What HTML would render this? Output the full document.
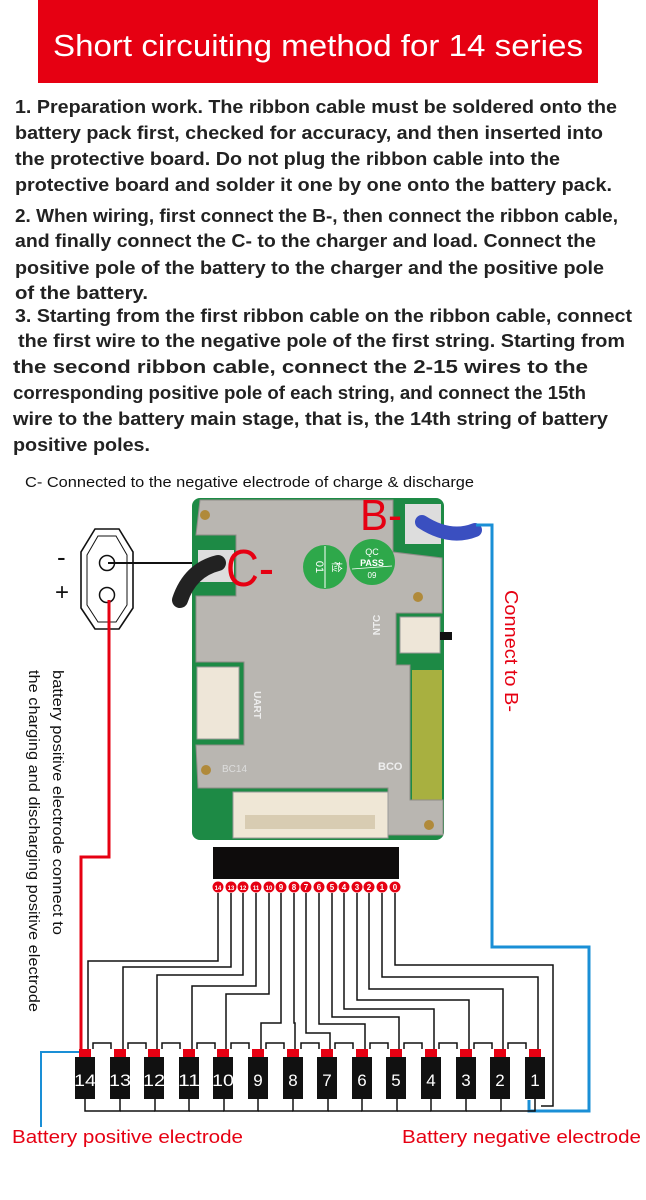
<!DOCTYPE html>
<html><head><meta charset="utf-8"><style>
html,body{margin:0;padding:0;background:#fff}
svg{display:block}
</style></head><body>
<svg width="646" height="1200" viewBox="0 0 646 1200" xmlns="http://www.w3.org/2000/svg" font-family="Liberation Sans, sans-serif">
<rect x="38" y="0" width="560" height="83" fill="#e60012"/>
<text x="318" y="56" font-size="31" fill="#fff" text-anchor="middle" textLength="530" lengthAdjust="spacingAndGlyphs">Short circuiting method for 14 series</text>
<g font-size="18" font-weight="bold" fill="#222">
<text x="15" y="113" textLength="602" lengthAdjust="spacingAndGlyphs">1. Preparation work. The ribbon cable must be soldered onto the</text>
<text x="15" y="139" textLength="588" lengthAdjust="spacingAndGlyphs">battery pack first, checked for accuracy, and then inserted into</text>
<text x="15" y="165" textLength="545" lengthAdjust="spacingAndGlyphs">the protective board. Do not plug the ribbon cable into the</text>
<text x="15" y="191" textLength="597" lengthAdjust="spacingAndGlyphs">protective board and solder it one by one onto the battery pack.</text>
<text x="15" y="222" textLength="603" lengthAdjust="spacingAndGlyphs">2. When wiring, first connect the B-, then connect the ribbon cable,</text>
<text x="15" y="247" textLength="581" lengthAdjust="spacingAndGlyphs">and finally connect the C- to the charger and load. Connect the</text>
<text x="15" y="274" textLength="589" lengthAdjust="spacingAndGlyphs">positive pole of the battery to the charger and the positive pole</text>
<text x="15" y="299" textLength="133" lengthAdjust="spacingAndGlyphs">of the battery.</text>
<text x="15" y="322" textLength="617" lengthAdjust="spacingAndGlyphs">3. Starting from the first ribbon cable on the ribbon cable, connect</text>
<text x="18" y="347" textLength="607" lengthAdjust="spacingAndGlyphs">the first wire to the negative pole of the first string. Starting from</text>
<text x="13" y="373" textLength="575" lengthAdjust="spacingAndGlyphs">the second ribbon cable, connect the 2-15 wires to the</text>
<text x="13" y="399" textLength="573" lengthAdjust="spacingAndGlyphs">corresponding positive pole of each string, and connect the 15th</text>
<text x="13" y="425" textLength="595" lengthAdjust="spacingAndGlyphs">wire to the battery main stage, that is, the 14th string of battery</text>
<text x="13" y="451" textLength="137" lengthAdjust="spacingAndGlyphs">positive poles.</text>
</g>
<text x="25" y="487" font-size="15" fill="#111" textLength="449" lengthAdjust="spacingAndGlyphs">C- Connected to the negative electrode of charge &amp; discharge</text>

<!-- board -->
<rect x="192" y="498" width="252" height="342" rx="8" fill="#1d8a45"/>
<rect x="412" y="670" width="30" height="130" fill="#a8b040"/>
<polygon points="200,500 393,500 393,552 442,558 442,613 396,613 396,665 410,665 410,800 443,800 443,835 388,835 388,788 198,788 196,745 244,745 244,662 196,662 196,596 236,596 236,535 196,535" fill="#b9b6b1" stroke="#8f8c88" stroke-width="1"/>
<rect x="233" y="792" width="155" height="46" fill="#efe7d6" stroke="#999"/>
<rect x="245" y="815" width="130" height="14" fill="#d8ccb2"/>
<rect x="197" y="667" width="42" height="72" fill="#eee6d8" stroke="#999"/>
<rect x="400" y="617" width="40" height="36" fill="#eee6d8" stroke="#999"/>
<rect x="440" y="632" width="12" height="8" fill="#111"/>
<circle cx="205" cy="515" r="5" fill="#b08a3a"/><circle cx="418" cy="597" r="5" fill="#b08a3a"/>
<circle cx="206" cy="770" r="5" fill="#b08a3a"/><circle cx="429" cy="825" r="5" fill="#b08a3a"/>
<rect x="198" y="550" width="36" height="32" fill="#ddd"/>
<rect x="405" y="504" width="36" height="40" fill="#ddd"/>
<text x="222" y="772" font-size="10" fill="#ddd">BC14</text>
<text x="378" y="770" font-size="11" fill="#eee" font-weight="bold">BCO</text>
<text transform="translate(380 625) rotate(-90)" font-size="10" fill="#eee" font-weight="bold" text-anchor="middle">NTC</text>
<text transform="translate(254 705) rotate(90)" font-size="10" fill="#eee" font-weight="bold" text-anchor="middle">UART</text>
<circle cx="325" cy="567" r="22" fill="#2ea84a"/>
<line x1="325" y1="546" x2="325" y2="588" stroke="#fff" stroke-width="1"/>
<text transform="translate(316 567) rotate(90)" font-size="11" fill="#fff" text-anchor="middle">01</text>
<text transform="translate(333 567) rotate(90)" font-size="11" fill="#fff" text-anchor="middle" font-family="Noto Sans CJK SC, sans-serif">检</text>
<circle cx="372" cy="562" r="23" fill="#2ea84a"/>
<text x="372" y="555" font-size="9" fill="#fff" text-anchor="middle">QC</text>
<text x="372" y="566" font-size="9" fill="#fff" text-anchor="middle" font-weight="bold">PASS</text>
<line x1="352" y1="569" x2="392" y2="566" stroke="#fff" stroke-width="0.8"/>
<text x="372" y="578" font-size="8" fill="#fff" text-anchor="middle">09</text>
<!-- cables -->
<path d="M422 522 Q450 540 475 530" stroke="#3a4fc0" stroke-width="14" fill="none" stroke-linecap="round"/>
<path d="M218 563 Q190 570 180 600" stroke="#222" stroke-width="16" fill="none" stroke-linecap="round"/>
<text x="360" y="530" font-size="44" fill="#e60012" textLength="42" lengthAdjust="spacingAndGlyphs">B-</text>
<text x="226" y="586" font-size="52" fill="#e60012" textLength="48" lengthAdjust="spacingAndGlyphs">C-</text>
<!-- plug -->
<path d="M95 529 H119 L133 552 V608 L119 629 H95 L81 608 V552 Z" fill="#fff" stroke="#111" stroke-width="1.6"/>
<path d="M98 536 H116 L127 555 V605 L116 622 H98 L87 605 V555 Z" fill="none" stroke="#111" stroke-width="1"/>
<circle cx="107" cy="563" r="7.5" fill="#fff" stroke="#111" stroke-width="1.5"/>
<circle cx="107" cy="595" r="7.5" fill="#fff" stroke="#111" stroke-width="1.5"/>
<line x1="108" y1="563" x2="192" y2="563" stroke="#111" stroke-width="2"/>
<text x="57" y="566" font-size="26" fill="#111">-</text>
<text x="55" y="600" font-size="24" fill="#111">+</text>
<!-- red wire -->
<path d="M109 600 V857 H81 V1050" stroke="#e60012" stroke-width="3" fill="none"/>
<!-- blue wires -->
<path d="M80 1052 H41 V1127" stroke="#1a8fd6" stroke-width="2" fill="none"/>
<path d="M476 525 H492 V947 H589 V1111 H529 V1100" stroke="#1a8fd6" stroke-width="3" fill="none"/>
<text transform="translate(505 590) rotate(90)" font-size="18" fill="#e60012" textLength="122" lengthAdjust="spacingAndGlyphs">Connect to B-</text>
<text transform="translate(53 670) rotate(90)" font-size="15" fill="#111" textLength="265" lengthAdjust="spacingAndGlyphs">battery positive electrode connect to</text>
<text transform="translate(29 670) rotate(90)" font-size="15" fill="#111" textLength="342" lengthAdjust="spacingAndGlyphs">the charging and discharging positive electrode</text>
<!-- ribbon block -->
<rect x="213" y="847" width="186" height="32" fill="#0e0c0c"/>
<g stroke="#111" stroke-width="1.5" fill="none">
<path d="M218 893 V961 H88 V1049"/>
<path d="M231 893 V967 H123 V1049"/>
<path d="M243 893 V975 H157 V1049"/>
<path d="M256 893 V986 H192 V1049"/>
<path d="M269 893 V994 H226 V1049"/>
<path d="M281 893 V1023 H261 V1049"/>
<path d="M294 893 V1023 H295 V1049"/>
<path d="M306 893 V1033 H330 V1049"/>
<path d="M319 893 V1024 H365 V1049"/>
<path d="M332 893 V1017 H399 V1049"/>
<path d="M344 893 V1009 H434 V1049"/>
<path d="M357 893 V1000 H469 V1049"/>
<path d="M369 893 V989 H503 V1049"/>
<path d="M382 893 V977 H538 V1049"/>
<path d="M395 893 V965 H553 V1106 H541"/>
</g>
<g font-size="8" fill="#fff" text-anchor="middle" font-weight="bold">
<g fill="#e60012">
<circle cx="218" cy="887" r="5.5"/><circle cx="231" cy="887" r="5.5"/><circle cx="243" cy="887" r="5.5"/><circle cx="256" cy="887" r="5.5"/><circle cx="269" cy="887" r="5.5"/><circle cx="281" cy="887" r="5.5"/><circle cx="294" cy="887" r="5.5"/><circle cx="306" cy="887" r="5.5"/><circle cx="319" cy="887" r="5.5"/><circle cx="332" cy="887" r="5.5"/><circle cx="344" cy="887" r="5.5"/><circle cx="357" cy="887" r="5.5"/><circle cx="369" cy="887" r="5.5"/><circle cx="382" cy="887" r="5.5"/><circle cx="395" cy="887" r="5.5"/>
</g>
<text x="218" y="890" font-size="6">14</text><text x="231" y="890" font-size="6">13</text><text x="243" y="890" font-size="6">12</text><text x="256" y="890" font-size="6">11</text><text x="269" y="890" font-size="6">10</text><text x="281" y="890">9</text><text x="294" y="890">8</text><text x="306" y="890">7</text><text x="319" y="890">6</text><text x="332" y="890">5</text><text x="344" y="890">4</text><text x="357" y="890">3</text><text x="369" y="890">2</text><text x="382" y="890">1</text><text x="395" y="890">0</text>
</g>
<!-- batteries -->
<g stroke="#111" stroke-width="1.5" fill="none">
<path d="M93 1049 V1043 H111 V1049 M128 1049 V1043 H146 V1049 M162 1049 V1043 H180 V1049 M197 1049 V1043 H215 V1049 M231 1049 V1043 H249 V1049 M266 1049 V1043 H284 V1049 M301 1049 V1043 H319 V1049 M335 1049 V1043 H353 V1049 M370 1049 V1043 H388 V1049 M404 1049 V1043 H422 V1049 M439 1049 V1043 H457 V1049 M474 1049 V1043 H492 V1049 M508 1049 V1043 H526 V1049"/>
<path d="M85 1099 V1111 H120 V1099 M155 1099 V1111 H189 V1099 M224 1099 V1111 H258 V1099 M293 1099 V1111 H328 V1099 M362 1099 V1111 H397 V1099 M431 1099 V1111 H466 V1099 M501 1099 V1111 H535 V1099"/>
<path d="M120 1111 H155 M189 1111 H224 M258 1111 H293 M328 1111 H362 M397 1111 H431 M466 1111 H501"/>
</g>
<g fill="#111">
<rect x="75" y="1057" width="20" height="42"/><rect x="110" y="1057" width="20" height="42"/><rect x="144" y="1057" width="20" height="42"/><rect x="179" y="1057" width="20" height="42"/><rect x="213" y="1057" width="20" height="42"/><rect x="248" y="1057" width="20" height="42"/><rect x="283" y="1057" width="20" height="42"/><rect x="317" y="1057" width="20" height="42"/><rect x="352" y="1057" width="20" height="42"/><rect x="386" y="1057" width="20" height="42"/><rect x="421" y="1057" width="20" height="42"/><rect x="456" y="1057" width="20" height="42"/><rect x="490" y="1057" width="20" height="42"/><rect x="525" y="1057" width="20" height="42"/>
</g>
<g fill="#e60012">
<rect x="79" y="1049" width="12" height="8"/><rect x="114" y="1049" width="12" height="8"/><rect x="148" y="1049" width="12" height="8"/><rect x="183" y="1049" width="12" height="8"/><rect x="217" y="1049" width="12" height="8"/><rect x="252" y="1049" width="12" height="8"/><rect x="287" y="1049" width="12" height="8"/><rect x="321" y="1049" width="12" height="8"/><rect x="356" y="1049" width="12" height="8"/><rect x="390" y="1049" width="12" height="8"/><rect x="425" y="1049" width="12" height="8"/><rect x="460" y="1049" width="12" height="8"/><rect x="494" y="1049" width="12" height="8"/><rect x="529" y="1049" width="12" height="8"/>
</g>
<g fill="#fff" font-size="17" text-anchor="middle">
<text x="85" y="1086" textLength="22" lengthAdjust="spacingAndGlyphs">14</text><text x="120" y="1086" textLength="22" lengthAdjust="spacingAndGlyphs">13</text><text x="154" y="1086" textLength="22" lengthAdjust="spacingAndGlyphs">12</text><text x="189" y="1086" textLength="22" lengthAdjust="spacingAndGlyphs">11</text><text x="223" y="1086" textLength="22" lengthAdjust="spacingAndGlyphs">10</text><text x="258" y="1086">9</text><text x="293" y="1086">8</text><text x="327" y="1086">7</text><text x="362" y="1086">6</text><text x="396" y="1086">5</text><text x="431" y="1086">4</text><text x="466" y="1086">3</text><text x="500" y="1086">2</text><text x="535" y="1086">1</text>
</g>
<text x="12" y="1143" font-size="18" fill="#e60012" textLength="231" lengthAdjust="spacingAndGlyphs">Battery positive electrode</text>
<text x="402" y="1143" font-size="18" fill="#e60012" textLength="239" lengthAdjust="spacingAndGlyphs">Battery negative electrode</text>
</svg>
</body></html>
